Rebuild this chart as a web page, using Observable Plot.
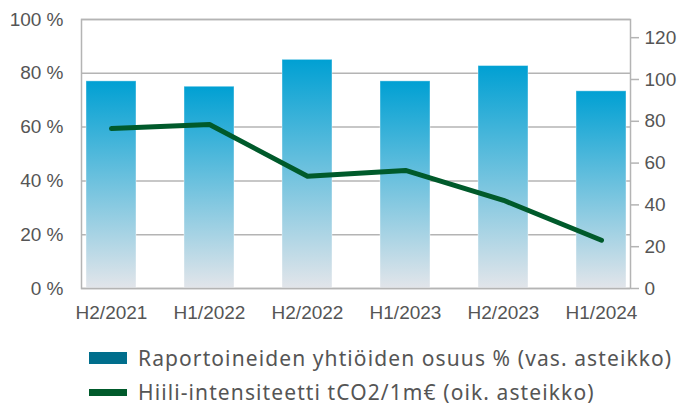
<!DOCTYPE html>
<html><head><meta charset="utf-8">
<script src="https://cdn.jsdelivr.net/npm/d3@7"></script>
<script src="https://cdn.jsdelivr.net/npm/@observablehq/plot@0.6"></script>
<style>
body{margin:0;background:#fff;width:685px;height:408px;overflow:hidden;font-family:"Liberation Sans",Arial,sans-serif}
#chart svg{display:block}
.legend{padding-left:89px;padding-top:11px;font-family:"Noto Sans",Lato,sans-serif;font-size:21px;letter-spacing:1.1px;color:#555}
.row{display:flex;align-items:center;height:34px;white-space:nowrap;line-height:22px}
.sw{width:38px;margin-right:11px;flex:none}
</style></head><body>
<div id="chart"></div>
<div class="legend" id="legend"></div>
<script>
const periods = ["H2/2021", "H1/2022", "H2/2022", "H1/2023", "H2/2023", "H1/2024"];
const share = [77, 75, 85, 77, 82.7, 73.3];
const intensity = [76.5, 78.5, 53.7, 56.5, 42.2, 23.1];
const leftTicks = [0, 20, 40, 60, 80, 100];
const rightTicks = [0, 20, 40, 60, 80, 100, 120];
const rightMax = 128.7;
const seriesNames = ["Raportoineiden yhtiöiden osuus % (vas. asteikko)", "Hiili-intensiteetti tCO2/1m€ (oik. asteikko)"];
const seriesColors = ["#006e8c", "#005a2b"];
const swatchHeights = [12, 7];

const barData = periods.map((p, i) => ({p, v: share[i]}));
const lineData = periods.map((p, i) => ({p, v: intensity[i] * 100 / rightMax}));

const gradDefs = () => {
  const defs = d3.create("svg:defs");
  const g = defs.append("linearGradient").attr("id", "barGrad")
    .attr("x1", 0).attr("y1", 0).attr("x2", 0).attr("y2", 1);
  g.append("stop").attr("offset", "0%").attr("stop-color", "#00a0d3");
  g.append("stop").attr("offset", "100%").attr("stop-color", "#e2e5ea");
  return defs.node();
};

const chart = Plot.plot({
  width: 685,
  height: 330,
  marginTop: 19,
  marginBottom: 42,
  marginLeft: 81,
  marginRight: 55,
  style: {fontFamily: "'Liberation Sans', Arial, sans-serif", fontSize: "19px", color: "#555555", background: "#fff"},
  x: {type: "band", domain: periods, paddingInner: 0.49, paddingOuter: 0, insetLeft: 4, insetRight: 3},
  y: {domain: [0, 100]},
  marks: [
    gradDefs,
    Plot.gridY(leftTicks, {stroke: "#b4b4b4", strokeOpacity: 1, strokeWidth: 1.5}),
    Plot.barY(barData, {x: "p", y: "v", fill: "url(#barGrad)", stroke: "#ffffff", strokeOpacity: 0.4, strokeWidth: 1}),
    Plot.frame({stroke: "#b4b4b4", strokeWidth: 1.5}),
    Plot.line(lineData, {x: "p", y: "v", stroke: "#005a2b", strokeWidth: 5}),
    Plot.axisY({anchor: "left", ticks: leftTicks, tickFormat: d => d + " %", tickSize: 0, tickPadding: 18, fontSize: 19, fill: "#555555", label: null}),
    Plot.axisY({anchor: "right", ticks: rightTicks.map(v => v * 100 / rightMax), tickFormat: d => Math.round(d * rightMax / 100), tickSize: 8, tickPadding: 6, stroke: "#b4b4b4", strokeWidth: 1.5, fill: "#555555", fontSize: 19, label: null}),
    Plot.axisX({tickSize: 0, tickPadding: 17, fontSize: 19, fill: "#555555", label: null})
  ]
});
document.getElementById("chart").appendChild(chart);

const legend = d3.select("#legend");
seriesNames.forEach((name, i) => {
  const row = legend.append("div").attr("class", "row");
  row.append("span").attr("class", "sw").style("height", swatchHeights[i] + "px").style("background", seriesColors[i]);
  row.append("span").text(name);
});
</script>
</body></html>
